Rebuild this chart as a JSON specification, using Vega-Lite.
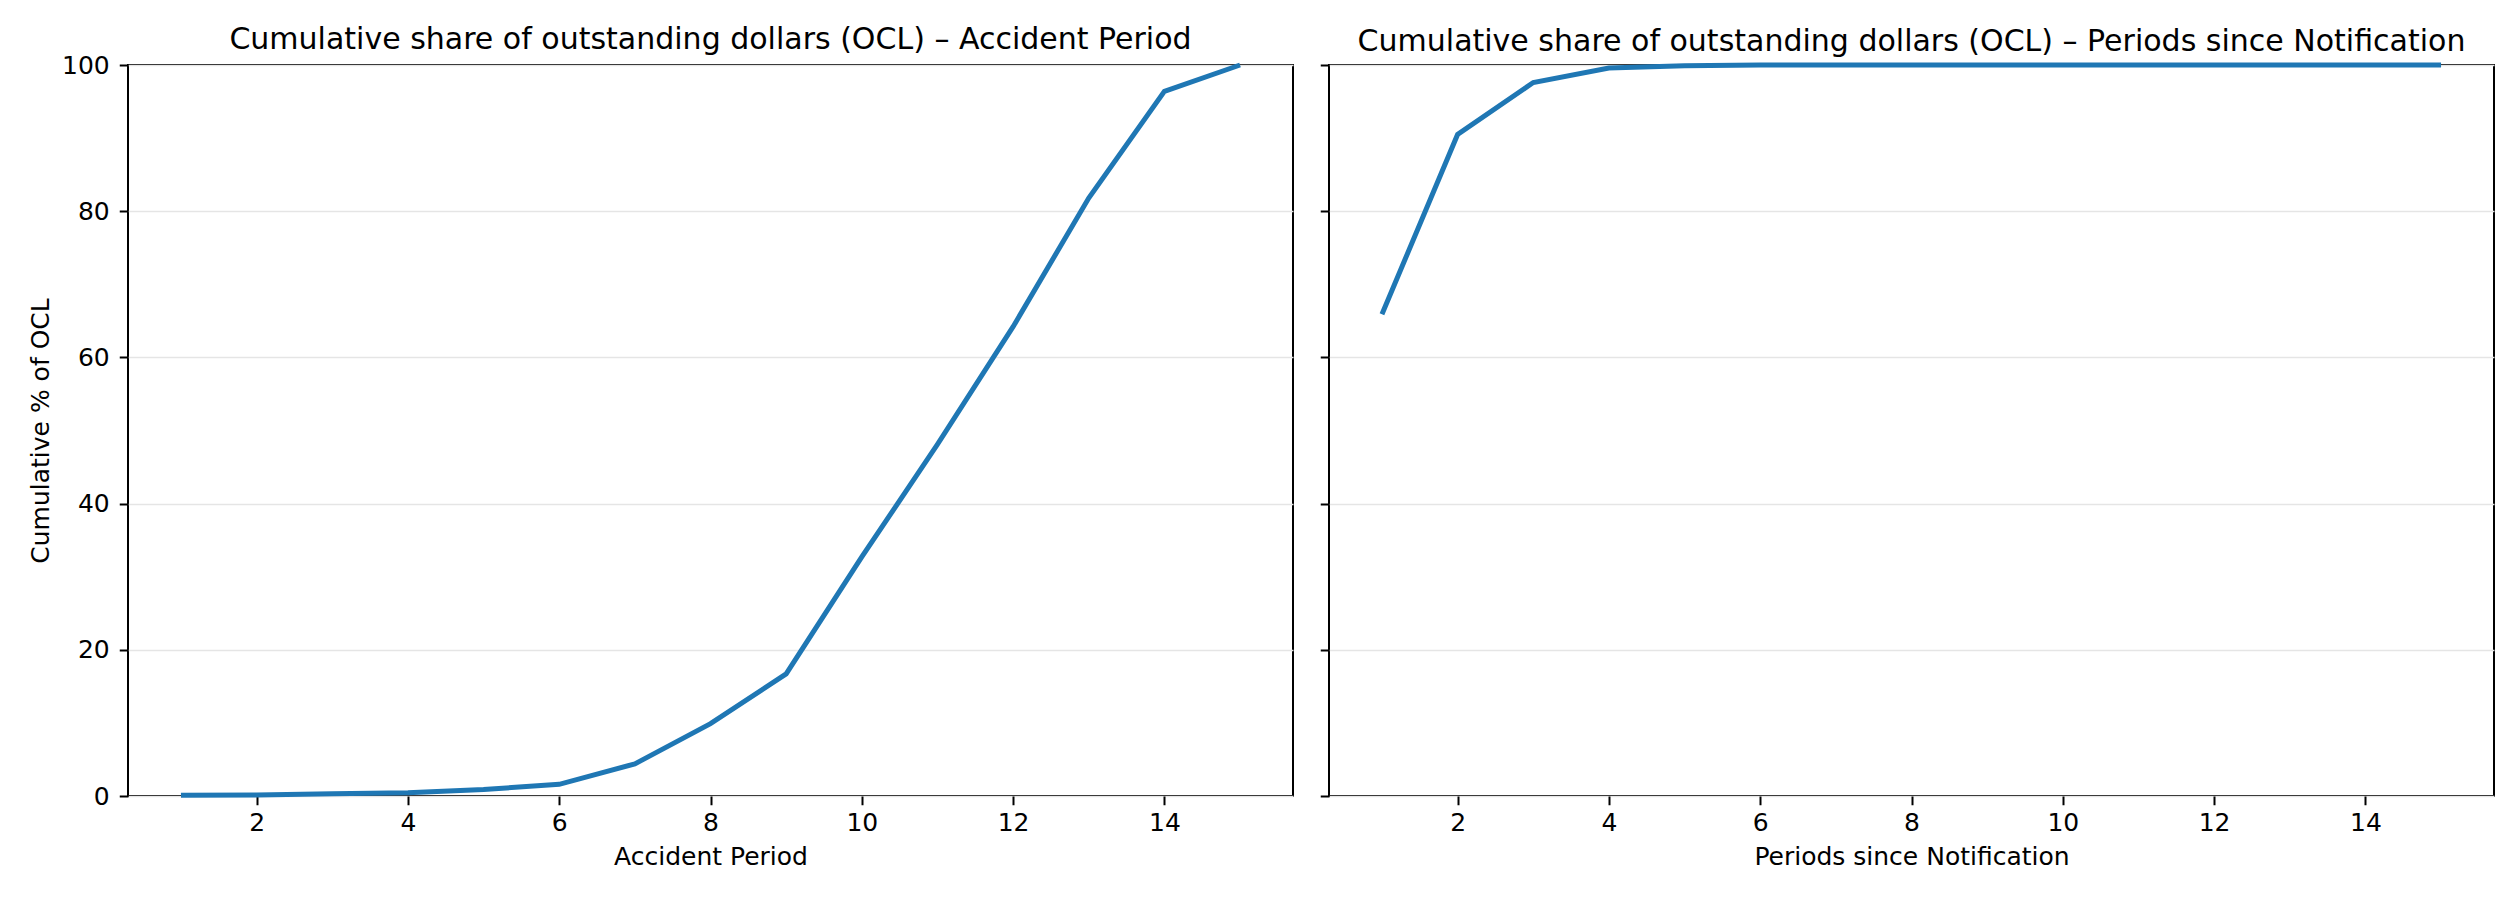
{
  "$schema": "https://vega.github.io/schema/vega-lite/v6.json",
  "padding": {"left": 27, "top": 24, "right": 5, "bottom": 5},
  "background": "white",
  "spacing": 36,
  "bounds": "flush",
  "config": {
    "font": "DejaVu Sans",
    "view": {"stroke": "black", "strokeWidth": 2},
    "axis": {
      "domain": false,
      "tickColor": "black",
      "tickWidth": 2,
      "tickSize": 8.75,
      "labelFont": "DejaVu Sans",
      "labelFontSize": 25,
      "labelColor": "black",
      "titleFont": "DejaVu Sans",
      "titleFontSize": 25,
      "titleFontWeight": "normal",
      "titleColor": "black"
    },
    "title": {"font": "DejaVu Sans", "fontSize": 30, "fontWeight": "normal", "color": "black", "baseline": "alphabetic", "offset": -2, "anchor": "middle"}
  },
  "datasets": {
    "ap": [
      {"period": 1, "pct": 0.1},
      {"period": 2, "pct": 0.15},
      {"period": 3, "pct": 0.3},
      {"period": 4, "pct": 0.45},
      {"period": 5, "pct": 0.9},
      {"period": 6, "pct": 1.6},
      {"period": 7, "pct": 4.4},
      {"period": 8, "pct": 9.9},
      {"period": 9, "pct": 16.7},
      {"period": 10, "pct": 32.7},
      {"period": 11, "pct": 48.1},
      {"period": 12, "pct": 64.2},
      {"period": 13, "pct": 81.8},
      {"period": 14, "pct": 96.4},
      {"period": 15, "pct": 100}
    ],
    "pn": [
      {"period": 1, "pct": 65.9},
      {"period": 2, "pct": 90.5},
      {"period": 3, "pct": 97.6},
      {"period": 4, "pct": 99.6},
      {"period": 5, "pct": 99.9},
      {"period": 6, "pct": 100},
      {"period": 7, "pct": 100},
      {"period": 8, "pct": 100},
      {"period": 9, "pct": 100},
      {"period": 10, "pct": 100},
      {"period": 11, "pct": 100},
      {"period": 12, "pct": 100},
      {"period": 13, "pct": 100},
      {"period": 14, "pct": 100},
      {"period": 15, "pct": 100}
    ]
  },
  "hconcat": [
    {
      "width": 1165,
      "height": 731,
      "title": "Cumulative share of outstanding dollars (OCL) – Accident Period",
      "data": {"name": "ap"},
      "mark": {"type": "line", "color": "#1f77b4", "strokeWidth": 5},
      "encoding": {
        "x": {
          "field": "period", "type": "quantitative",
          "scale": {"domain": [0.3, 15.7], "nice": false, "zero": false},
          "axis": {"values": [2, 4, 6, 8, 10, 12, 14], "grid": false, "title": "Accident Period", "labelPadding": 5.75, "titlePadding": 9}
        },
        "y": {
          "field": "pct", "type": "quantitative",
          "scale": {"domain": [0, 100], "nice": false},
          "axis": {"values": [0, 20, 40, 60, 80, 100], "grid": true, "gridColor": "#e5e5e5", "gridWidth": 1.5, "title": "Cumulative % of OCL", "labelPadding": 10, "titlePadding": 8}
        }
      }
    },
    {
      "width": 1165,
      "height": 731,
      "title": "Cumulative share of outstanding dollars (OCL) – Periods since Notification",
      "data": {"name": "pn"},
      "mark": {"type": "line", "color": "#1f77b4", "strokeWidth": 5},
      "encoding": {
        "x": {
          "field": "period", "type": "quantitative",
          "scale": {"domain": [0.3, 15.7], "nice": false, "zero": false},
          "axis": {"values": [2, 4, 6, 8, 10, 12, 14], "grid": false, "title": "Periods since Notification", "labelPadding": 5.75, "titlePadding": 9}
        },
        "y": {
          "field": "pct", "type": "quantitative",
          "scale": {"domain": [0, 100], "nice": false},
          "axis": {"values": [0, 20, 40, 60, 80, 100], "grid": true, "gridColor": "#e5e5e5", "gridWidth": 1.5, "labels": false, "title": null}
        }
      }
    }
  ]
}
